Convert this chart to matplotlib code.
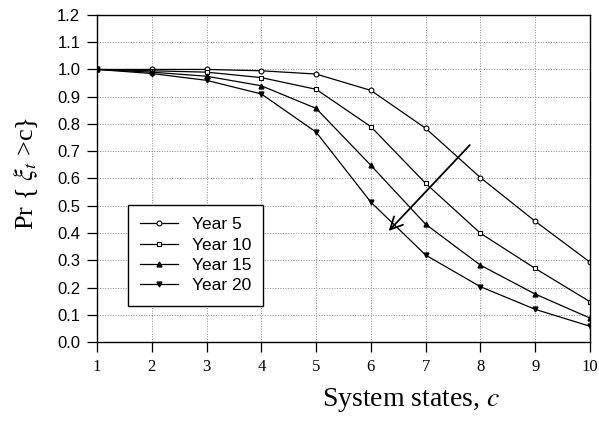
import matplotlib
matplotlib.use("Agg")
import matplotlib.pyplot as plt

states = [1, 2, 3, 4, 5, 6, 7, 8, 9, 10]
year5 = [1.0, 1.0, 1.0, 0.995, 0.983, 0.923, 0.784, 0.603, 0.443, 0.293]
year10 = [1.0, 0.995, 0.99, 0.97, 0.927, 0.790, 0.582, 0.399, 0.270, 0.148]
year15 = [1.0, 0.99, 0.975, 0.94, 0.857, 0.648, 0.432, 0.282, 0.176, 0.088]
year20 = [1.0, 0.985, 0.96, 0.91, 0.77, 0.513, 0.319, 0.203, 0.12, 0.058]
labels = ['Year 5', 'Year 10', 'Year 15', 'Year 20']
yticks = [0.0, 0.1, 0.2, 0.3, 0.4, 0.5, 0.6, 0.7, 0.8, 0.9, 1.0, 1.1, 1.2]

plt.rcParams['mathtext.fontset'] = 'stix'

fig = plt.figure(figsize=(5.99, 4.38), dpi=100)
ax = fig.add_axes([0.162, 0.219, 0.823, 0.747])

ax.plot(states, year5, color='black', lw=0.9, marker='o', ms=3.5,
        mfc='white', mec='black', mew=0.8, label=labels[0])
ax.plot(states, year10, color='black', lw=0.9, marker='s', ms=3.3,
        mfc='white', mec='black', mew=0.8, label=labels[1])
ax.plot(states, year15, color='black', lw=0.9, marker='^', ms=3.5,
        mfc='black', mec='black', label=labels[2])
ax.plot(states, year20, color='black', lw=0.9, marker='v', ms=3.5,
        mfc='black', mec='black', label=labels[3])

ax.annotate('', xy=(6.29, 0.40), xytext=(7.84, 0.73),
            arrowprops=dict(arrowstyle='->', color='black', lw=1.3,
                            mutation_scale=22))

ax.set_xlim(1, 10)
ax.set_ylim(0, 1.2)
ax.set_xticks(states)
ax.set_yticks(yticks)
ax.set_yticklabels([f'{v:.1f}' for v in yticks], family='Liberation Sans', fontsize=12)
ax.set_xticklabels([str(s) for s in states], family='Liberation Serif', fontsize=12)
ax.tick_params(direction='out', length=7, width=0.9, pad=5)
ax.grid(True, linestyle=':', color='#888888', lw=0.7)
for sp in ax.spines.values():
    sp.set_linewidth(1.0)

leg = ax.legend(loc='upper left', bbox_to_anchor=(0.062, 0.419), frameon=True,
                fancybox=False, edgecolor='black', framealpha=1,
                prop={'family': 'Liberation Sans', 'size': 12.5},
                handlelength=2.2, labelspacing=0.3, borderpad=0.7,
                borderaxespad=0)
leg.get_frame().set_linewidth(1.0)

fig.text(0.686, 0.087, 'System states, $c$', family='Liberation Serif',
         fontsize=20, ha='center', va='center')
fig.text(0.042, 0.605, r'Pr { $\xi_t$ >c}', family='Liberation Serif',
         fontsize=19, rotation=90, ha='center', va='center')

fig.savefig('out.png', dpi=100)
